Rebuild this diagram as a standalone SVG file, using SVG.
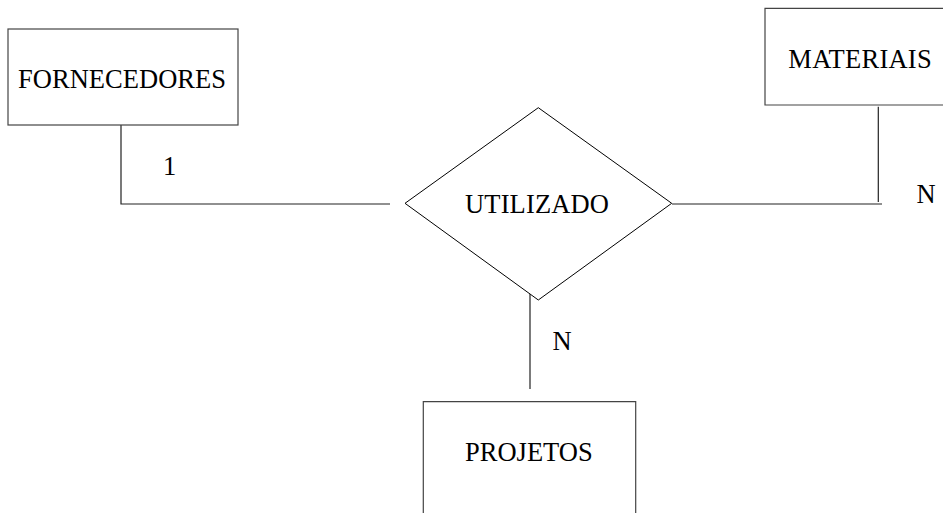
<svg xmlns="http://www.w3.org/2000/svg" width="943" height="513" viewBox="0 0 943 513">
<style>
.box{fill:#fff;stroke:#444;stroke-width:1.2}
.dia{fill:#fff;stroke:#000;stroke-width:1}
.ln{fill:none;stroke:#222;stroke-width:1.2}
text{font-family:"Liberation Serif","Times New Roman",serif;font-size:26.5px;fill:#000}
</style>
<rect width="943" height="513" fill="#fff"/>
<g id="connectors">
<polyline class="ln" points="121,125 121,204 390,204"/>
<polyline class="ln" points="878.3,106.7 878.3,202"/>
<line class="ln" x1="672" y1="204" x2="882" y2="204"/>
<line class="ln" x1="530" y1="293" x2="530" y2="389"/>
<text x="163" y="175">1</text>
<text x="916.5" y="203">N</text>
<text x="552.5" y="350">N</text>
</g>
<g id="fornecedores">
<rect class="box" x="8" y="29" width="230" height="96"/>
<text x="18" y="88" textLength="208">FORNECEDORES</text>
</g>
<g id="materiais">
<polyline class="box" points="943,8.3 765,8.3 765,105 943,105"/>
<text x="788.3" y="68.3" textLength="143.4">MATERIAIS</text>
</g>
<g id="utilizado">
<polygon class="dia" points="538.3,107.7 671.7,203.3 538.3,300 405,203.3"/>
<text x="465" y="213.3" textLength="144">UTILIZADO</text>
</g>
<g id="projetos">
<polyline class="box" points="423.3,513 423.3,401.7 635.7,401.7 635.7,513"/>
<text x="465" y="461" textLength="127.7">PROJETOS</text>
</g>
</svg>
